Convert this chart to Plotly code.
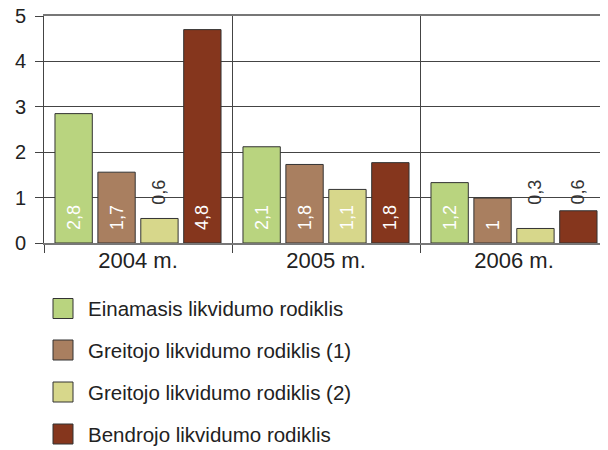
import plotly.graph_objects as go

# --- data ---
years = ['2004 m.', '2005 m.', '2006 m.']

names = ['Einamasis likvidumo rodiklis',
         'Greitojo likvidumo rodiklis (1)',
         'Greitojo likvidumo rodiklis (2)',
         'Bendrojo likvidumo rodiklis']

einamasis = [2.85, 2.12, 1.33]
greitojo1 = [1.56, 1.73, 0.99]
greitojo2 = [0.54, 1.18, 0.32]
bendrojo = [4.70, 1.77, 0.71]

einamasis_lbl = ['2,8', '2,1', '1,2']
greitojo1_lbl = ['1,7', '1,8', '1']
greitojo2_lbl = ['0,6', '1,1', '0,3']
bendrojo_lbl = ['4,8', '1,8', '0,6']

y_ticks = [0, 1, 2, 3, 4, 5]

colors = ['#b9d47f', '#a97f60', '#d7d78b', '#85361d']

values = [einamasis, greitojo1, greitojo2, bendrojo]
labels = [einamasis_lbl, greitojo1_lbl, greitojo2_lbl, bendrojo_lbl]

FONT = 'Liberation Sans'
OFF = 8                      # page body margin around the plot div
W, H = 608 - OFF, 450 - OFF
L, R, T, B = 44 - OFF, 0, 16 - OFF, 450 - 243
BARGAP = 0.087
GROUPGAP = 0.13
SMALL = 0.8   # bars lower than this get the label above

fig = go.Figure()

for k, (nm, vals, lbls, col) in enumerate(zip(names, values, labels, colors)):
    txt = ['\u00a0\u00a0' + t if v >= SMALL else '' for v, t in zip(vals, lbls)]
    fig.add_trace(go.Bar(
        x=years, y=vals, name=nm, marker_color=col,
        marker_line=dict(color='#333333', width=1),
        text=txt, textposition='inside', insidetextanchor='start',
        textangle=-90, constraintext='none',
        insidetextfont=dict(family=FONT, size=18, color='white'),
        showlegend=False, hoverinfo='skip'))

    # labels of the low bars sit above them
    slot = (1 - BARGAP) / len(names)
    for i, (v, t) in enumerate(zip(vals, lbls)):
        if v < SMALL:
            fig.add_annotation(
                x=i - (1 - BARGAP) / 2 + (k + 0.5) * slot, y=0.80,
                xref='x', yref='y', text=t, textangle=-90, showarrow=False,
                xanchor='center', yanchor='bottom',
                font=dict(family=FONT, size=18, color='#333333'))

# legend drawn by hand (bigger swatches than plotly's own)
plot_h = H - T - B
plot_w = W - L - R
def px_x(p):
    return (p - OFF - L) / plot_w
def px_y(p):
    return (H - B - (p - OFF)) / plot_h

leg_rows = [308.5, 350, 392, 434]
for nm, col, cy in zip(names, colors, leg_rows):
    fig.add_shape(type='rect', xref='paper', yref='paper',
                  x0=px_x(53), x1=px_x(73), y0=px_y(cy - 10), y1=px_y(cy + 10),
                  fillcolor=col, line=dict(color='#333333', width=1))
    fig.add_annotation(x=px_x(86), y=px_y(cy), xref='paper', yref='paper',
                       text=nm, showarrow=False, xanchor='left', yanchor='middle',
                       font=dict(family=FONT, size=20.5, color='#222222'))

fig.update_layout(
    width=W, height=H,
    margin=dict(l=L, r=R, t=T, b=B, pad=0),
    barmode='group', bargap=BARGAP, bargroupgap=GROUPGAP,
    plot_bgcolor='white', paper_bgcolor='white',
    font=dict(family=FONT, size=20, color='#222222'),
    xaxis=dict(type='category', tickson='boundaries', showgrid=True,
               gridcolor='#444444', gridwidth=1, automargin=False,
               ticks='outside', ticklen=8, tickcolor='#444444',
               ticklabelstandoff=-3,
               showline=True, linecolor='#777777', linewidth=1.5, mirror=True,
               tickfont=dict(family=FONT, size=22, color='#222222')),
    yaxis=dict(range=[0, 5], tickvals=y_ticks, showgrid=True,
               gridcolor='#444444', gridwidth=1, zeroline=False,
               showline=True, linecolor='#444444', linewidth=1,
               ticks='outside', ticklen=8, tickcolor='#444444',
               ticklabeloverflow='allow', automargin=False,
               ticklabelstandoff=5,
               tickfont=dict(family=FONT, size=20, color='#222222')),
)

fig.write_html("out.html")
